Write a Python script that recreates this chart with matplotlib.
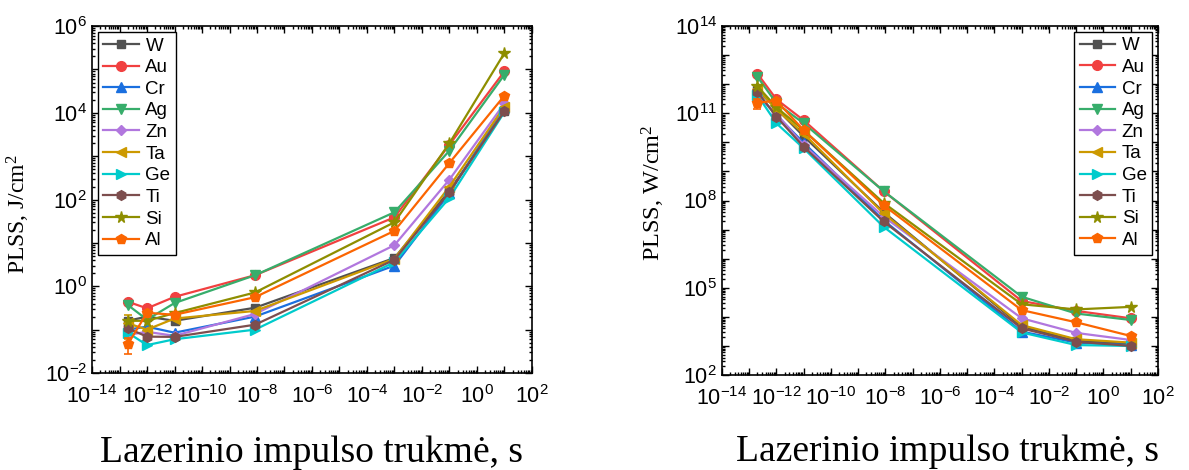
import numpy as np
import matplotlib
matplotlib.use("Agg")
import matplotlib.pyplot as plt
from matplotlib.ticker import FixedLocator, LogLocator, FuncFormatter, NullFormatter

plt.rcParams['font.family'] = ['Liberation Sans', 'DejaVu Sans']
plt.rcParams['mathtext.default'] = 'regular'

# ---------------- data ----------------
materials = ["W", "Au", "Cr", "Ag", "Zn", "Ta", "Ge", "Ti", "Si", "Al"]
tau = [2e-13, 1e-12, 1e-11, 8.5e-9, 1e-3, 1e-1, 1e1]

# PLSS fluence, J/cm^2
W_F  = [0.16, 0.20, 0.16, 0.32, 4.5, 160, 1.1e4]
Au_F = [0.44, 0.31, 0.57, 1.8, 39, 1850, 9.1e4]
Cr_F = [0.10, 0.117, 0.085, 0.20, 3.0, 140, 1.4e4]
Ag_F = [0.37, 0.17, 0.41, 1.8, 51, 1350, 7.6e4]
Zn_F = [0.076, 0.089, 0.072, 0.23, 8.9, 290, 1.65e4]
Ta_F = [0.14, 0.10, 0.18, 0.27, 4.3, 200, 1.4e4]
Ge_F = [0.085, 0.044, 0.06, 0.10, 3.6, 110, 1.05e4]
Ti_F = [0.107, 0.069, 0.068, 0.13, 4.1, 150, 1.1e4]
Si_F = [0.16, 0.16, 0.24, 0.72, 30, 2000, 2.4e5]
Al_F = [0.046, 0.245, 0.22, 0.56, 19, 700, 2.5e4]

# PLSS intensity, W/cm^2
W_I  = [6.2e11, 1.45e11, 1.6e10, 4.0e7, 4.6e3, 1.5e3, 1.17e3]
Au_I = [2.3e12, 3.0e11, 5.7e10, 2.1e8, 3.5e4, 1.6e4, 8.9e3]
Cr_I = [4.6e11, 8.5e10, 9.6e9, 2.1e7, 3.1e3, 1.3e3, 1.07e3]
Ag_I = [1.8e12, 2.2e11, 4.5e10, 2.1e8, 4.9e4, 1.3e4, 7.8e3]
Zn_I = [3.9e11, 9.5e10, 8.0e9, 2.8e7, 8.9e3, 2.8e3, 1.6e3]
Ta_I = [7.0e11, 1.35e11, 2.0e10, 3.6e7, 5.2e3, 1.7e3, 1.3e3]
Ge_I = [4.2e11, 4.5e10, 6.2e9, 1.25e7, 2.9e3, 1.07e3, 1.0e3]
Ti_I = [5.5e11, 7.6e10, 7.0e9, 1.9e7, 4.0e3, 1.4e3, 1.0e3]
Si_I = [8.5e11, 1.6e11, 2.6e10, 8.3e7, 2.7e4, 1.8e4, 2.2e4]
Al_I = [2.3e11, 2.7e11, 2.6e10, 6.9e7, 1.7e4, 6.5e3, 2.2e3]

# error bars (only visible ones)
Al_F_err = [0.018, 0, 0, 0, 0, 0, 0]
Ta_F_err = [0.08, 0, 0, 0, 0, 0, 0]
Al_I_err = [0.9e11, 0, 0, 0, 0, 0, 0]

colors = ["#515151", "#F14040", "#1A6FDF", "#37AD6B", "#B177DE",
          "#CC9900", "#00CBCC", "#7D4E4E", "#8E8E00", "#FB6501"]
markers = ["s", "o", "^", "v", "D", "<", ">", "h", "*", "p"]
msizes = [6, 7, 7, 7, 5.5, 7, 7, 7, 8.5, 7.5]

fluence = [W_F, Au_F, Cr_F, Ag_F, Zn_F, Ta_F, Ge_F, Ti_F, Si_F, Al_F]
intensity = [W_I, Au_I, Cr_I, Ag_I, Zn_I, Ta_I, Ge_I, Ti_I, Si_I, Al_I]
err_F = {"Al": Al_F_err, "Ta": Ta_F_err}
err_I = {"Al": Al_I_err}

fig = plt.figure(figsize=(11.89, 4.70), dpi=100)
axL = fig.add_axes([0.0774, 0.2064, 0.370, 0.738])
axR = fig.add_axes([0.6072, 0.2021, 0.3667, 0.7426])


def draw(ax, series, errs):
    for name, vals, c, m, ms in zip(materials, series, colors, markers, msizes):
        e = errs.get(name)
        if e is not None:
            ax.errorbar(tau, vals, yerr=e, color=c, fmt='none',
                        elinewidth=1.2, capsize=3, capthick=1.2)
        ax.plot(tau, vals, color=c, marker=m, markersize=ms,
                linewidth=1.6, label=name)


def style(ax, ymin_exp, ymax_exp, label_step, label_offset):
    ax.set_xscale('log')
    ax.set_yscale('log')
    ax.set_xlim(1e-14, 1e2)
    ax.set_ylim(10.0 ** ymin_exp, 10.0 ** ymax_exp)
    ax.xaxis.set_major_locator(FixedLocator(10.0 ** np.arange(-14, 3)))
    ax.xaxis.set_minor_locator(LogLocator(base=10, subs=np.arange(2, 10), numticks=100))
    ax.yaxis.set_major_locator(FixedLocator(10.0 ** np.arange(ymin_exp, ymax_exp + 1)))
    ax.yaxis.set_minor_locator(LogLocator(base=10, subs=np.arange(2, 10), numticks=100))
    ax.xaxis.set_minor_formatter(NullFormatter())
    ax.yaxis.set_minor_formatter(NullFormatter())

    def xf(v, pos):
        e = int(round(np.log10(v)))
        return r'$10^{%d}$' % e if e % 2 == 0 else ''

    def yf(v, pos):
        e = int(round(np.log10(v)))
        return r'$10^{%d}$' % e if (e - label_offset) % label_step == 0 else ''

    ax.xaxis.set_major_formatter(FuncFormatter(xf))
    ax.yaxis.set_major_formatter(FuncFormatter(yf))
    ax.tick_params(which='both', direction='in', top=True, right=True,
                   labelsize=15.5, width=1.0)
    ax.tick_params(which='major', length=5)
    ax.tick_params(which='minor', length=2.5)
    ax.tick_params(axis='x', pad=9)
    for s in ax.spines.values():
        s.set_linewidth(1.2)


draw(axL, fluence, err_F)
draw(axR, intensity, err_I)
style(axL, -2, 6, 2, 0)
style(axR, 2, 14, 3, 2)

serif = ['Liberation Serif', 'DejaVu Serif']
axL.set_ylabel(r'PLSS, J/cm$^2$', family=serif, fontsize=17)
axR.set_ylabel(r'PLSS, W/cm$^2$', family=serif, fontsize=17.5)
axL.yaxis.set_label_coords(-0.137, 0.458)
axR.yaxis.set_label_coords(-0.126, 0.523)
axL.set_xlabel('Lazerinio impulso trukmė, s', family=serif, fontsize=27)
axR.set_xlabel('Lazerinio impulso trukmė, s', family=serif, fontsize=27)
axL.xaxis.set_label_coords(0.5, -0.181)
axR.xaxis.set_label_coords(0.517, -0.170)
axL.xaxis.label.set_va('top')
axR.xaxis.label.set_va('top')

for ax, loc in ((axL, 'upper left'), (axR, 'upper right')):
    leg = ax.legend(loc=loc, fontsize=13.5, frameon=True, fancybox=False,
                    edgecolor='black', framealpha=1, borderpad=0.3,
                    labelspacing=0.24, handlelength=1.9, handletextpad=0.35,
                    borderaxespad=0.3, numpoints=1)
    leg.get_frame().set_linewidth(1.0)

fig.savefig('out.png', dpi=100)
